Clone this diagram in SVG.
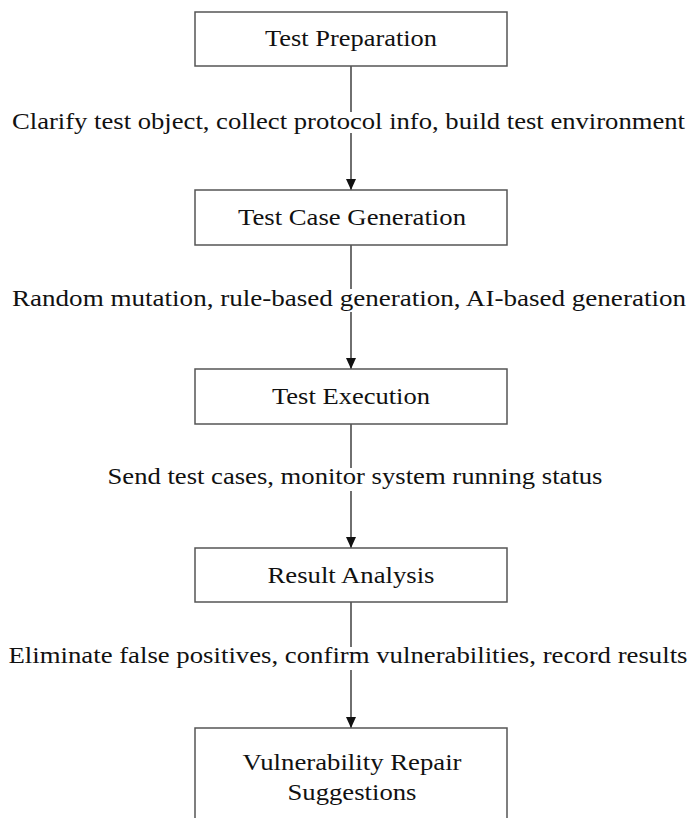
<svg xmlns="http://www.w3.org/2000/svg" width="692" height="818" viewBox="0 0 692 818">
<defs>
<marker id="ah" markerWidth="11" markerHeight="10" refX="11" refY="5" orient="auto" markerUnits="userSpaceOnUse" viewBox="0 0 11 10">
<path d="M0,0 L11,5 L0,10 Z" fill="#111"/>
</marker>
</defs>
<style>
.box{fill:#fff;stroke:#555;stroke-width:1.5}
.ln{stroke:#222;stroke-width:1.3;fill:none}
text{fill:#111;text-anchor:middle;font-family:"Liberation Serif",Tinos,"Times New Roman","Noto Serif","DejaVu Serif",serif;font-size:23px}
</style>
<rect width="692" height="818" fill="#fff"/>
<g id="connectors">
<line class="ln" x1="351" y1="66" x2="351" y2="112"/>
<line class="ln" x1="351" y1="133" x2="351" y2="190" marker-end="url(#ah)"/>
<line class="ln" x1="351" y1="245" x2="351" y2="289"/>
<line class="ln" x1="351" y1="312" x2="351" y2="369" marker-end="url(#ah)"/>
<line class="ln" x1="351" y1="424" x2="351" y2="468"/>
<line class="ln" x1="351" y1="491" x2="351" y2="548" marker-end="url(#ah)"/>
<line class="ln" x1="351" y1="602" x2="351" y2="647"/>
<line class="ln" x1="351" y1="670" x2="351" y2="728" marker-end="url(#ah)"/>
<text x="348.5" y="129" textLength="673" lengthAdjust="spacingAndGlyphs">Clarify test object, collect protocol info, build test environment</text>
<text x="349" y="306" textLength="674" lengthAdjust="spacingAndGlyphs">Random mutation, rule-based generation, AI-based generation</text>
<text x="355" y="484" textLength="495" lengthAdjust="spacingAndGlyphs">Send test cases, monitor system running status</text>
<text x="348" y="663" textLength="679" lengthAdjust="spacingAndGlyphs">Eliminate false positives, confirm vulnerabilities, record results</text>
</g>
<g id="n1"><rect class="box" x="195" y="12" width="312" height="54"/><text x="351" y="46" textLength="172" lengthAdjust="spacingAndGlyphs">Test Preparation</text></g>
<g id="n2"><rect class="box" x="195" y="190" width="312" height="55"/><text x="352" y="225" textLength="228" lengthAdjust="spacingAndGlyphs">Test Case Generation</text></g>
<g id="n3"><rect class="box" x="195" y="369" width="312" height="55"/><text x="351" y="404" textLength="158" lengthAdjust="spacingAndGlyphs">Test Execution</text></g>
<g id="n4"><rect class="box" x="195" y="548" width="312" height="54"/><text x="351" y="583" textLength="167" lengthAdjust="spacingAndGlyphs">Result Analysis</text></g>
<g id="n5"><rect class="box" x="195" y="728" width="312" height="110"/><text x="352" y="770" textLength="219" lengthAdjust="spacingAndGlyphs">Vulnerability Repair</text><text x="352" y="800" textLength="129" lengthAdjust="spacingAndGlyphs">Suggestions</text></g>
</svg>
